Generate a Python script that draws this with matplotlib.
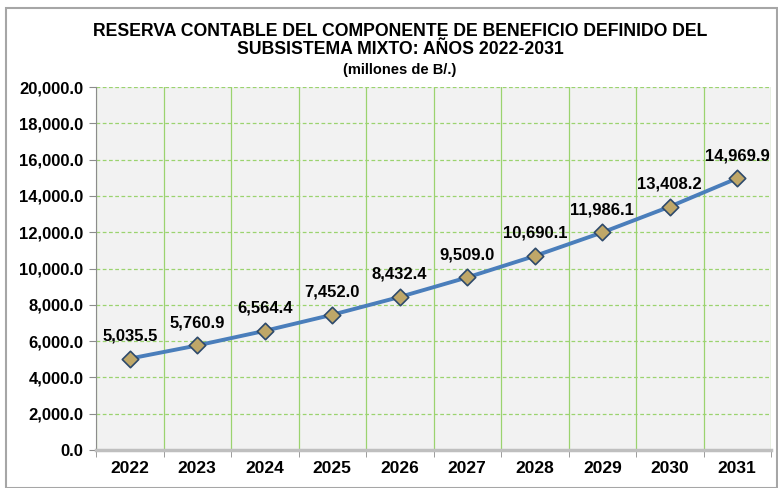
import matplotlib
matplotlib.use("Agg")
import matplotlib.pyplot as plt
from matplotlib.patches import Rectangle
from matplotlib.ticker import MultipleLocator, FuncFormatter

plt.rcParams['font.family'] = ['Liberation Sans', 'DejaVu Sans']

years = ['2022', '2023', '2024', '2025', '2026', '2027', '2028', '2029', '2030', '2031']
reserva = [5035.5, 5760.9, 6564.4, 7452.0, 8432.4, 9509.0, 10690.1, 11986.1, 13408.2, 14969.9]

fig = plt.figure(figsize=(7.78, 4.88), dpi=100)
fig.patches.append(Rectangle((6 / 778, 0.0), 0.999 - 6 / 778, 1 - 8 / 488,
                             transform=fig.transFigure, fill=False,
                             edgecolor='#A6A6A6', linewidth=1.5))

ax = fig.add_axes([96 / 778, 1 - 450 / 488, (771 - 96) / 778, (450 - 87) / 488])
ax.set_facecolor('#F2F2F2')

x = list(range(len(years)))
ax.plot(x, reserva, color='#4A7EBB', linewidth=2.8, zorder=3)
ax.scatter(x, reserva, marker='D', s=70, facecolor='#BFA768', edgecolor='#2E4A6B',
           linewidth=1.2, zorder=4)
for xi, v in zip(x, reserva):
    ax.annotate(f'{v:,.1f}', (xi, v), xytext=(0, 11), textcoords='offset points',
                ha='center', va='bottom', fontsize=12, fontweight='bold')

ax.set_xlim(-0.5, len(years) - 0.5)
ax.set_ylim(0, 20000)
ax.yaxis.set_major_locator(MultipleLocator(2000))
ax.yaxis.set_major_formatter(FuncFormatter(lambda v, p: f'{v:,.1f}'))
ax.set_xticks(x)
ax.set_xticklabels(years)
ax.set_xticks([i - 0.5 for i in range(len(years) + 1)], minor=True)

ax.grid(axis='y', which='major', color='#9BD36F', linestyle=(0, (3, 2)), linewidth=0.9)
ax.grid(axis='x', which='minor', color='#9BD36F', linestyle='-', linewidth=0.9)
ax.set_axisbelow(True)

for s in ['top', 'right']:
    ax.spines[s].set_visible(False)
ax.spines['left'].set_color('#8C8C8C')
ax.spines['bottom'].set_color('#BFBFBF')
ax.spines['bottom'].set_linewidth(2.5)

ax.tick_params(axis='x', which='major', length=0, pad=8, labelsize=12.5)
ax.tick_params(axis='x', which='minor', length=5, color='#8C8C8C')
ax.tick_params(axis='y', length=5, color='#8C8C8C', labelsize=12, pad=4)
for lab in ax.get_xticklabels() + ax.get_yticklabels():
    lab.set_fontweight('bold')

fig.text(400 / 778, 1 - 31 / 488, 'RESERVA CONTABLE DEL COMPONENTE DE BENEFICIO DEFINIDO DEL',
         ha='center', va='center', fontsize=12.7, fontweight='bold')
fig.text(400 / 778, 1 - 50 / 488, 'SUBSISTEMA MIXTO: AÑOS 2022-2031',
         ha='center', va='center', fontsize=12.7, fontweight='bold')
fig.text(400 / 778, 1 - 70 / 488, '(millones de B/.)',
         ha='center', va='center', fontsize=10.5, fontweight='bold')

fig.savefig('out.png', dpi=100)
